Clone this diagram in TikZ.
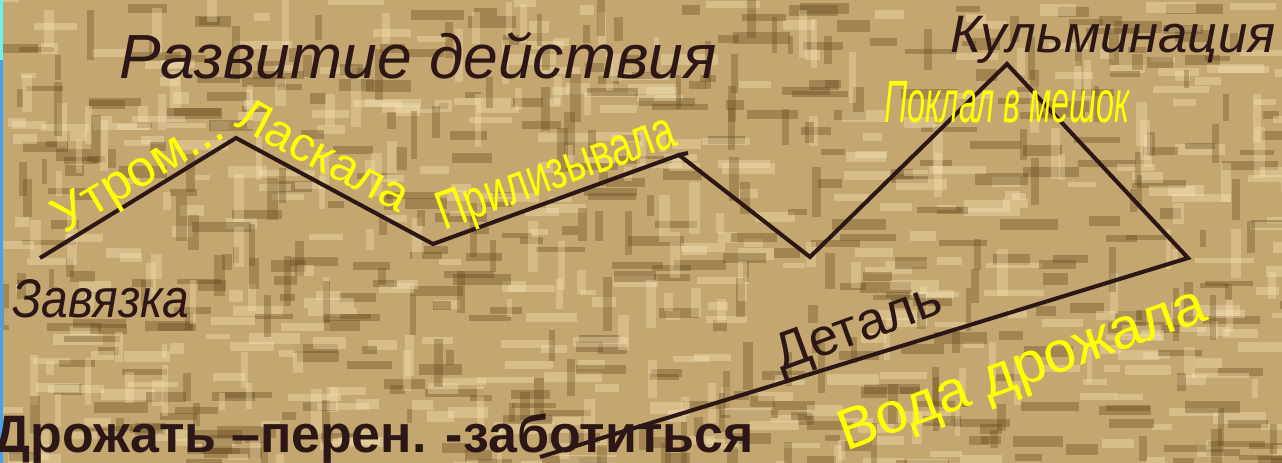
\documentclass[tikz,border=0pt]{standalone}
\usepackage{fontspec}
\setmainfont{Liberation Sans}
\usepackage{tikz}
\usetikzlibrary{positioning}
\definecolor{BurlapBase}{RGB}{196,166,112}
\definecolor{WeaveDark}{RGB}{100,72,28}
\definecolor{WeaveLight}{RGB}{250,232,186}
\definecolor{InkBrown}{RGB}{45,22,22}
\definecolor{SlideYellow}{RGB}{255,255,0}
\definecolor{EdgeBlue}{RGB}{70,160,240}
\definecolor{EdgeCyan}{RGB}{110,240,240}

\begin{document}
\begin{tikzpicture}[
  x=0.02cm, y=-0.02cm,
  plotline/.style={draw=InkBrown, line width=2.3pt, line join=miter},
  stage/.style={text=InkBrown, inner sep=0pt, font=\itshape},
  episode/.style={text=SlideYellow, inner sep=0pt},
  note/.style={text=InkBrown, inner sep=0pt, font=\bfseries}
]

% Burlap background, clipped to the slide.
\clip (0,0) rectangle (1282,463);
\fill[BurlapBase] (0,0) rectangle (1282,463);
\pgfmathsetseed{11}
\foreach \k in {1,...,650}{
  \pgfmathsetmacro{\bx}{rnd*1290-8}
  \pgfmathsetmacro{\by}{rnd*470-4}
  \pgfmathsetmacro{\bw}{14+rnd*46}
  \pgfmathsetmacro{\bh}{5+rnd*7}
  \pgfmathsetmacro{\bs}{rnd}
  \ifdim\bs pt<0.5pt \def\bc{WeaveDark}\else\def\bc{WeaveLight}\fi
  \fill[\bc, opacity=0.36] (\bx,\by) rectangle ++(\bw,\bh);
}
\foreach \k in {1,...,300}{
  \pgfmathsetmacro{\bx}{rnd*1290-8}
  \pgfmathsetmacro{\by}{rnd*470-4}
  \pgfmathsetmacro{\bw}{5+rnd*6}
  \pgfmathsetmacro{\bh}{14+rnd*40}
  \pgfmathsetmacro{\bs}{rnd}
  \ifdim\bs pt<0.5pt \def\bc{WeaveDark}\else\def\bc{WeaveLight}\fi
  \fill[\bc, opacity=0.32] (\bx,\by) rectangle ++(\bw,\bh);
}
\fill[EdgeBlue] (0,0) rectangle (3,463);
\fill[EdgeCyan] (0,0) rectangle (3,60);

% Plot line points.
\coordinate (start)  at (40,258);
\coordinate (peakA)  at (236,138);
\coordinate (dipA)   at (433,244);
\coordinate (peakB)  at (679,155);
\coordinate (dipB)   at (810,257);
\coordinate (climax) at (1007,64);
\coordinate (turn)   at (1188,258);
\coordinate (finish) at (540,457);

\draw[plotline] (start) -- (peakA) -- (dipA) -- (peakB) -- (dipB)
  -- (climax) -- (turn) -- (finish);
\draw[plotline] (peakB) -- ++(9,-2);

% Stage names.
\node[stage, anchor=base, font=\itshape\fontsize{35.5}{40}\selectfont]
  (rising) at (418,78) {Развитие действия};
\node[stage, anchor=base, font=\itshape\fontsize{30}{34}\selectfont]
  (culm) at (1113,52) {Кульминация};
\node[stage, anchor=base west, font=\itshape\fontsize{31}{35}\selectfont]
  (tie) at (12,317) {\scalebox{0.88}[1]{Завязка}};

% Episodes along the line.
\node[episode, rotate=31, font=\fontsize{29}{32}\selectfont]
  (morning) at (140,175) {Утром...};
\node[episode, rotate=-28, font=\fontsize{27.5}{30}\selectfont]
  (caress) at (324,155) {Ласкала};
\node[episode, rotate=20, font=\fontsize{31}{34}\selectfont]
  (slick) at (557,175) {\scalebox{0.72}[1]{Прилизывала}};
\node[episode, font=\itshape\fontsize{34}{38}\selectfont]
  (sack) at (1007,102) {\scalebox{0.54}[1]{Поклал в мешок}};

% Detail.
\node[stage, font=\fontsize{30}{34}\selectfont, rotate=20]
  (detail) at (859,330) {Деталь};
\node[episode, rotate=20, font=\fontsize{33}{37}\selectfont]
  (water) at (1023,372) {Вода дрожала};

\node[note, anchor=base west, font=\bfseries\fontsize{30}{34}\selectfont]
  (meaning) at (-7,452) {\scalebox{0.985}[1]{Дрожать –перен. -заботиться}};

\end{tikzpicture}
\end{document}
